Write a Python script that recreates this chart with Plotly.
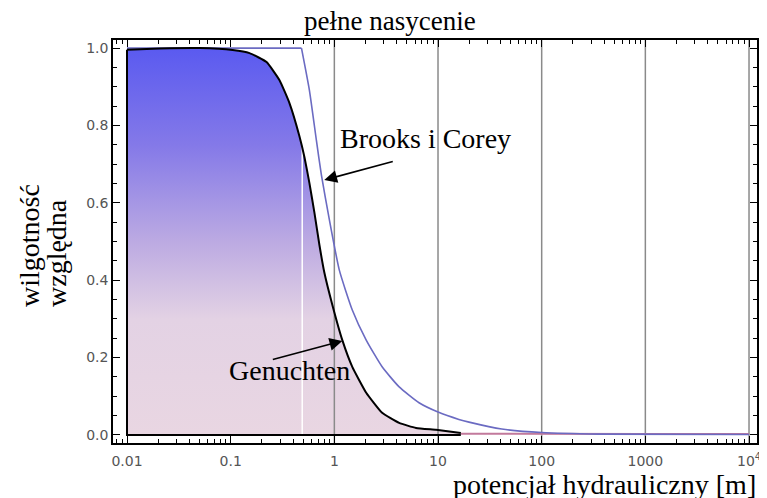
import plotly.graph_objects as go

# van Genuchten curve (psi [m], relative moisture)
vg_psi = [0.01, 0.0207, 0.0504, 0.1045, 0.152, 0.222, 0.296, 0.369, 0.460, 0.515, 0.575,
          0.643, 0.718, 0.802, 0.957, 1.194, 1.49, 2.03, 2.89, 4.22, 6.14, 9.57, 16.6]
vg_s = [0.996, 0.999, 1.0, 0.995, 0.987, 0.964, 0.917, 0.858, 0.773, 0.718, 0.651,
        0.574, 0.491, 0.419, 0.336, 0.245, 0.176, 0.109, 0.057, 0.031, 0.018, 0.013, 0.005]

# residual tail of the van Genuchten curve
tail_psi = [16.6, 100, 1000, 10000]
tail_s = [0.003, 0.002, 0.002, 0.002]

# Brooks i Corey curve (flat up to the air-entry value, then falling)
bc_psi = [0.01, 0.1, 0.482, 0.575, 0.671, 0.750, 0.896, 1.117, 1.49, 2.03, 2.89, 4.22,
          6.56, 10, 15.9, 19.9, 41.2, 100, 353, 10000]
bc_s = [1.0, 1.0, 1.0, 0.891, 0.762, 0.672, 0.556, 0.426, 0.323, 0.245, 0.176, 0.124,
        0.083, 0.059, 0.040, 0.033, 0.015, 0.006, 0.002, 0.001]
bc_knee = 2  # index of the air-entry point

grid_x = [1, 10, 100, 1000, 10000]
white_x = 0.49

x_tickvals = [0.01, 0.1, 1, 10, 100, 1000, 10000]
x_ticktext = ["0.01", "0.1", "1", "10", "100", "1000", "10<sup>4</sup>"]
y_tickvals = [0.0, 0.2, 0.4, 0.6, 0.8, 1.0]
y_ticktext = ["0.0", "0.2", "0.4", "0.6", "0.8", "1.0"]

serif = "Liberation Serif"

fig = go.Figure()

# filled area under the van Genuchten curve
poly_x = vg_psi + [vg_psi[-1], vg_psi[0], vg_psi[0]]
poly_y = vg_s + [0.0, 0.0, vg_s[0]]
fig.add_trace(go.Scatter(
    x=poly_x, y=poly_y, mode="lines", fill="toself",
    line=dict(width=0),
    fillgradient=dict(type="vertical", colorscale=[
        [0.0, "#e9d6e2"], [0.3, "#e3d2e4"], [0.5, "#bcaae2"],
        [0.75, "#8479e8"], [1.0, "#5a5af0"]]),
    hoverinfo="skip"))

# vertical grid lines
for gx in grid_x:
    fig.add_trace(go.Scatter(x=[gx, gx], y=[-0.05, 1.05], mode="lines",
                             line=dict(color="#8a8a8a", width=1.5), hoverinfo="skip"))
fig.add_trace(go.Scatter(x=[white_x, white_x], y=[-0.05, 1.05], mode="lines",
                         line=dict(color="white", width=1.5), hoverinfo="skip"))

# residual tail
fig.add_trace(go.Scatter(x=tail_psi, y=tail_s, mode="lines",
                         line=dict(color="#c27a9c", width=2), hoverinfo="skip"))

# Brooks i Corey
fig.add_trace(go.Scatter(x=bc_psi[:bc_knee + 1], y=bc_s[:bc_knee + 1], mode="lines",
                         line=dict(color="#6b6bc2", width=1.6), hoverinfo="skip"))
fig.add_trace(go.Scatter(x=bc_psi[bc_knee:], y=bc_s[bc_knee:], mode="lines",
                         line=dict(color="#6b6bc2", width=1.6, shape="spline", smoothing=0.5),
                         hoverinfo="skip"))

# van Genuchten outline: bottom and left edges, then the curve
fig.add_trace(go.Scatter(x=[vg_psi[-1], vg_psi[0], vg_psi[0]], y=[0.0, 0.0, vg_s[0]],
                         mode="lines", line=dict(color="black", width=2), hoverinfo="skip"))
fig.add_trace(go.Scatter(x=vg_psi, y=vg_s, mode="lines",
                         line=dict(color="black", width=2, shape="spline", smoothing=0.4),
                         hoverinfo="skip"))

# arrows
fig.add_annotation(x=-0.097, y=0.659, xref="x", yref="y", text="", showarrow=True,
                   ax=70, ay=-19, arrowhead=2, arrowsize=1.6, arrowwidth=1.6,
                   arrowcolor="black")
fig.add_annotation(x=0.077, y=0.243, xref="x", yref="y", text="", showarrow=True,
                   ax=-71, ay=19, arrowhead=2, arrowsize=1.6, arrowwidth=1.6,
                   arrowcolor="black")

# page pixel -> paper coords (plot frame spans x 113..757, y 40..443 on the page)
def label(px, py, text, size=28, angle=0, xanchor="center"):
    fig.add_annotation(xref="paper", yref="paper", x=(px - 113) / 644, y=(443 - py) / 403,
                       xanchor=xanchor, yanchor="middle", text=text, textangle=angle,
                       showarrow=False, font=dict(family=serif, size=size, color="black"))

label(425, 138, "Brooks i Corey")
label(289, 370, "Genuchten")
label(390, 21, "pełne nasycenie", size=27)
label(758, 484, "potencjał hydrauliczny [m]", xanchor="right")
label(30, 246, "wilgotność", angle=-90)
label(56, 253, "względna", angle=-90)

tick_font = dict(family="DejaVu Sans", size=14, color="#555555")

fig.update_xaxes(type="log", range=[-2.135, 4.077], showgrid=False, zeroline=False,
                 automargin=False, ticklabelstandoff=4,
                 showline=True, linecolor="black", linewidth=1.5, mirror="ticks",
                 ticks="inside", ticklen=7, tickwidth=1.2, tickcolor="black",
                 tickvals=x_tickvals, ticktext=x_ticktext, tickfont=tick_font,
                 minor=dict(ticks="inside", ticklen=4, tickwidth=1, tickcolor="black",
                            dtick="D1", showgrid=False))
fig.update_yaxes(range=[-0.021, 1.021], showgrid=False, zeroline=False,
                 automargin=False,
                 showline=True, linecolor="black", linewidth=1.5, mirror="ticks",
                 ticks="inside", ticklen=7, tickwidth=1.2, tickcolor="black",
                 tickvals=y_tickvals, ticktext=y_ticktext, tickfont=tick_font,
                 minor=dict(ticks="inside", ticklen=4, tickwidth=1, tickcolor="black",
                            dtick=0.05, showgrid=False))

# the page body adds an 8px offset, so the figure is shifted back by that much
fig.update_layout(width=759, height=490, showlegend=False, template="none",
                  margin=dict(l=105, r=10, t=32, b=55),
                  plot_bgcolor="white", paper_bgcolor="white")

fig.write_html("out.html")
